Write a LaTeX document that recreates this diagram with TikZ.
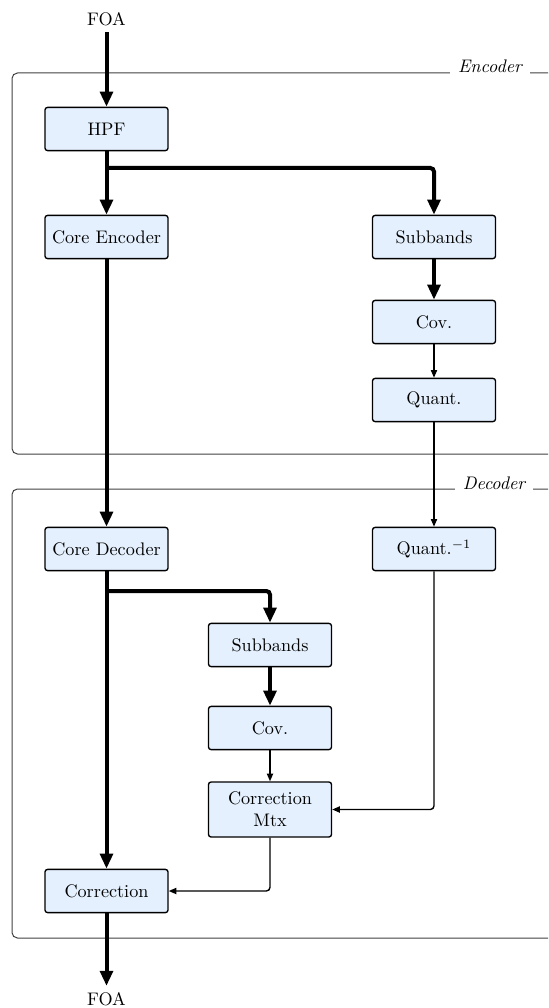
\documentclass[tikz,border=0pt]{standalone}
\usepackage{amsmath,amssymb}
\usepackage{tikz}
\usetikzlibrary{arrows.meta,calc,positioning}
\usepackage{xcolor}
\definecolor{boxblue}{RGB}{228,240,253}

\begin{document}
\begin{tikzpicture}[x=0.55pt, y=-0.55pt, every node/.style={font=\normalsize},
  blockbox/.style={draw, line width=0.75pt, rounded corners=1.5pt, fill=boxblue,
    minimum width=67.7pt, minimum height=23.8pt, align=center, inner sep=2pt},
  bigflow/.style={line width=2.2pt, -{Triangle[length=8.3pt, width=7pt]}},
  smallflow/.style={line width=0.75pt, -{Triangle[length=4.2pt, width=3.4pt]}},
  framebox/.style={draw=black!75, line width=0.55pt, rounded corners=3pt},
  framelabel/.style={fill=white, font=\itshape, anchor=base, inner xsep=4.5pt, inner ysep=2pt}]
  \path[use as bounding box, clip] (0,0) rectangle (548,1008);
  % encoder part
  \begin{scope}
    \draw[framebox] (12,73) rectangle (600,454);
    \node[framelabel] (enclabel) at (490,73) {Encoder};
    \node (foain) at (106.5,19) {FOA};
    \node[blockbox] (hpf) at (106.5,129) {HPF};
    \node[blockbox] (coreenc) at (106.5,237) {Core Encoder};
    \node[blockbox] (subenc) at (434,237) {Subbands};
    \node[blockbox] (covenc) at (434,322) {Cov.};
    \node[blockbox] (quantenc) at (434,400) {Quant.};
    \coordinate (encsplit) at (106.5,168);
  \end{scope}
  % decoder part
  \begin{scope}
    \draw[framebox] (12,489) rectangle (600,938);
    \node[framelabel] (declabel) at (494,489) {Decoder};
    \node[blockbox] (coredec) at (106.5,549) {Core Decoder};
    \node[blockbox] (quantinv) at (434,549) {Quant.$^{-1}$};
    \node[blockbox] (subdec) at (270,645) {Subbands};
    \node[blockbox] (covdec) at (270,728) {Cov.};
    \node[blockbox, minimum height=30.3pt] (corrmtx) at (270,809.5) {Correction\\Mtx};
    \node[blockbox] (corr) at (106.5,891) {Correction};
    \node (foaout) at (106.5,999) {FOA};
    \coordinate (decsplit) at (106.5,591);
  \end{scope}
  % connectors
  \draw[bigflow] (foain) -- (hpf);
  \draw[bigflow] (hpf) -- (coreenc);
  \draw[bigflow, rounded corners=2pt] (encsplit) -| (subenc.north);
  \draw[bigflow] (subenc) -- (covenc);
  \draw[smallflow] (covenc) -- (quantenc);
  \draw[smallflow] (quantenc) -- (quantinv);
  \draw[bigflow] (coreenc) -- (coredec);
  \draw[bigflow] (coredec) -- (corr);
  \draw[bigflow, rounded corners=2pt] (decsplit) -| (subdec.north);
  \draw[bigflow] (subdec) -- (covdec);
  \draw[smallflow] (covdec) -- (corrmtx);
  \draw[smallflow, rounded corners=2pt] (quantinv.south) |- (corrmtx.east);
  \draw[smallflow, rounded corners=2pt] (corrmtx.south) |- (corr.east);
  \draw[bigflow] (corr) -- (foaout);
\end{tikzpicture}
\end{document}
